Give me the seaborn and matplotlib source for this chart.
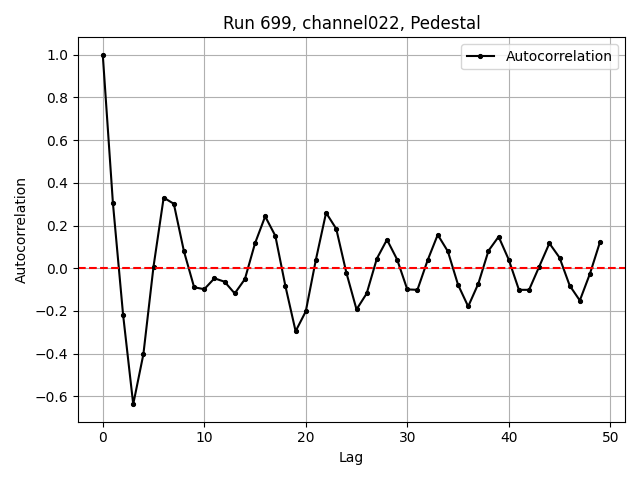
import numpy as np
import pandas as pd
import matplotlib
matplotlib.use('Agg')
import matplotlib.pyplot as plt
from matplotlib.ticker import MultipleLocator
import seaborn as sns

lags = list(range(50))
autocorr = [1.0, 0.305, -0.217, -0.637, -0.403, 0.008, 0.331, 0.302, 0.079, -0.089,
            -0.098, -0.047, -0.063, -0.118, -0.051, 0.117, 0.243, 0.152, -0.085, -0.295,
            -0.202, 0.041, 0.260, 0.185, -0.021, -0.193, -0.118, 0.045, 0.134, 0.041,
            -0.099, -0.101, 0.037, 0.157, 0.079, -0.077, -0.179, -0.072, 0.082, 0.148,
            0.040, -0.101, -0.101, 0.008, 0.117, 0.050, -0.081, -0.151, -0.025, 0.125]

df = pd.DataFrame({'Lag': lags, 'Autocorrelation': autocorr})

fig, ax = plt.subplots(figsize=(6.4, 4.8), dpi=100)
sns.lineplot(data=df, x='Lag', y='Autocorrelation', color='black', marker='.',
             markersize=6, markeredgecolor='black', label='Autocorrelation', ax=ax)
ax.axhline(0, color='red', linestyle='--')
ax.yaxis.set_major_locator(MultipleLocator(0.2))
ax.grid(True)
ax.set_title('Run 699, channel022, Pedestal')
ax.set_xlabel('Lag')
ax.set_ylabel('Autocorrelation')
ax.legend(loc='upper right')
plt.tight_layout()
plt.savefig('out.png')
